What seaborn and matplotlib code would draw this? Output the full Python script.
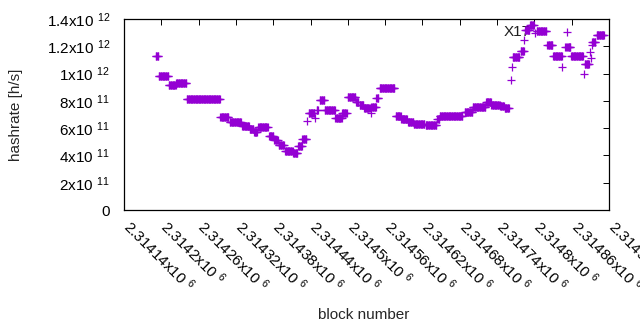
import numpy as np
import pandas as pd
import matplotlib
matplotlib.use("Agg")
import matplotlib.pyplot as plt
import matplotlib.transforms as mtrans
import seaborn as sns

# ---- data: runs of consecutive blocks sharing the same hashrate estimate ----
block_base = 2314140
run_start = [51, 56, 72, 84, 101, 155, 170, 190, 202, 209, 216, 233, 242, 249, 259, 272, 280, 287,
             295, 297, 307, 310, 315, 323, 340, 351, 360, 373, 379, 386, 397, 398, 406, 411,
             437, 446, 457, 466, 485, 504, 508, 548, 561, 582, 591, 605, 612,
             622, 624, 625, 638, 644, 645, 653, 661, 664, 681, 690, 705, 710, 713, 714,
             719, 739, 741, 750, 751, 752, 753, 760]
run_end = [55, 71, 83, 100, 154, 168, 188, 201, 208, 214, 231, 240, 247, 257, 271, 279, 286, 293,
           295, 306, 307, 312, 322, 339, 350, 358, 372, 377, 385, 395, 397, 405, 409, 435,
           445, 455, 465, 483, 502, 507, 544, 560, 581, 590, 604, 611, 619,
           622, 624, 636, 643, 644, 652, 659, 661, 679, 689, 704, 705, 712, 713, 718,
           738, 739, 748, 750, 751, 752, 758, 772]
run_value_e12 = [1.127, 0.980, 0.914, 0.931, 0.812, 0.680, 0.643, 0.616, 0.596, 0.572, 0.605, 0.546,
                 0.513, 0.480, 0.434, 0.418, 0.466, 0.517,
                 0.652, 0.713, 0.677, 0.733, 0.804, 0.731, 0.678, 0.709, 0.826, 0.792, 0.768, 0.751,
                 0.709, 0.755, 0.821, 0.892,
                 0.691, 0.667, 0.643, 0.628, 0.620, 0.665, 0.687, 0.721, 0.753, 0.790, 0.773, 0.762,
                 0.744,
                 0.953, 1.046, 1.118, 1.162, 1.246, 1.320, 1.353, 1.295, 1.310, 1.207, 1.127, 1.046,
                 1.195, 1.303, 1.195,
                 1.127, 0.997, 1.070, 1.156, 1.117, 1.210, 1.228, 1.281]

x_ticks = [2314140 + 60 * k for k in range(14)]
x_tick_labels = ["2.31414", "2.3142", "2.31426", "2.31432", "2.31438", "2.31444", "2.3145",
                 "2.31456", "2.31462", "2.31468", "2.31474", "2.3148", "2.31486", "2.31492"]
y_ticks = [0, 2e11, 4e11, 6e11, 8e11, 1e12, 1.2e12, 1.4e12]
y_tick_labels = ["0", "2x10 $^{11}$", "4x10 $^{11}$", "6x10 $^{11}$", "8x10 $^{11}$",
                 "1x10 $^{12}$", "1.2x10 $^{12}$", "1.4x10 $^{12}$"]

blocks, rates = [], []
for s, e, v in zip(run_start, run_end, run_value_e12):
    for b in range(s, e + 1):
        blocks.append(block_base + b)
        rates.append(v * 1e12)
df = pd.DataFrame({"block number": blocks, "hashrate": rates})

# ---- style ----
sns.set_style("white")
plt.rcParams["font.family"] = ["Liberation Sans", "DejaVu Sans"]
plt.rcParams["mathtext.fontset"] = "custom"
plt.rcParams["mathtext.rm"] = "Liberation Sans"
plt.rcParams["mathtext.it"] = "Liberation Sans:italic"
plt.rcParams["mathtext.bf"] = "Liberation Sans:bold"
plt.rcParams["mathtext.default"] = "regular"

FS = 11
fig = plt.figure(figsize=(6.4, 3.3), dpi=100)
ax = fig.add_axes([124 / 640, 1 - 210 / 330, 485 / 640, 191 / 330])

sns.scatterplot(data=df, x="block number", y="hashrate", marker="+", s=26,
                color="#9400d3", linewidth=0.9, ax=ax, label="X17", legend=False,
                zorder=2)

ax.set_xlim(2314140, 2314920)
ax.set_ylim(0, 1.4e12)
ax.set_xticks(x_ticks)
ax.set_xticklabels([f"{t}x10 $^{{6}}$" for t in x_tick_labels], rotation=-45,
                   ha="left", va="top", rotation_mode="anchor", fontsize=FS)
ax.set_yticks(y_ticks)
ax.set_yticklabels(y_tick_labels, fontsize=FS)
ax.tick_params(direction="in", length=4.5, width=0.7, top=True, right=True,
               colors="black", pad=10)
ax.tick_params(axis="x", pad=5)
shift = mtrans.ScaledTranslation(9 / 100, 0, fig.dpi_scale_trans)
for lbl in ax.get_xticklabels():
    lbl.set_transform(lbl.get_transform() + shift)
for sp in ax.spines.values():
    sp.set_visible(True)
    sp.set_color("black")
    sp.set_linewidth(0.9)

ax.set_xlabel("block number", fontsize=FS)
ax.set_ylabel("hashrate [h/s]", fontsize=FS)
ax.xaxis.set_label_coords((364 - 124) / 485, (210 - 308) / 191)
ax.yaxis.set_label_coords((23 - 124) / 485, (210 - 115) / 191)

ax.text((531 - 124) / 485, (210 - 32) / 191, "X17", transform=ax.transAxes,
        ha="right", va="center", fontsize=FS, color="#202020", zorder=1)

fig.savefig("out.png", dpi=100)
